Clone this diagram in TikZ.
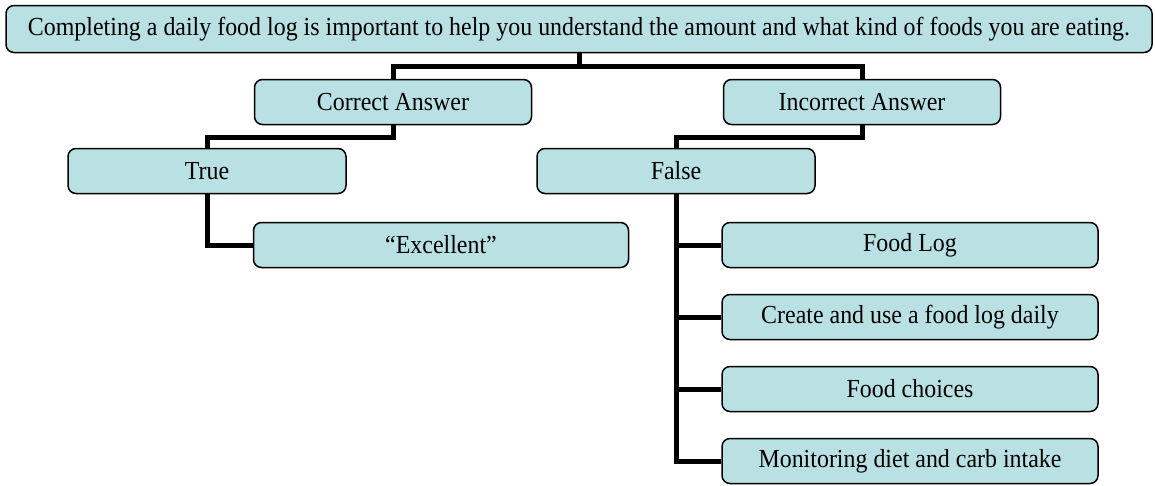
\documentclass[tikz,border=0pt]{standalone}
\usepackage{fontspec}
\setmainfont[FakeStretch=0.92]{Liberation Serif}
\definecolor{boxfill}{RGB}{185,224,227}
\begin{document}
\begin{tikzpicture}[x=1pt, y=-1pt,
  box/.style={draw, line width=1.5pt, rounded corners=8pt, fill=boxfill,
    minimum height=45pt, inner sep=0pt, font=\fontsize{26}{30}\selectfont},
  conn/.style={line width=5pt}]
\useasboundingbox (0,0) rectangle (1155,485);

% Question and the two answers
\node[box, minimum width=1146pt, minimum height=47pt] (question) at (579, 29) {Completing a daily food log is important to help you understand the amount and what kind of foods you are eating.};
\node[box, minimum width=277pt] (correct) at (393, 102) {Correct Answer};
\node[box, minimum width=277pt] (incorrect) at (862, 102) {Incorrect Answer};

% True / False
\node[box, minimum width=278pt] (true) at (207, 171) {True};
\node[box, minimum width=278pt] (false) at (676, 171) {False};

% Feedback
\node[box, minimum width=375pt] (excellent) at (441, 245) {``Excellent''};
\node[box, minimum width=376pt] (foodlog) at (910, 245) {Food Log};
\node[box, minimum width=376pt] (create) at (910, 317) {Create and use a food log daily};
\node[box, minimum width=376pt] (choices) at (910, 389) {Food choices};
\node[box, minimum width=376pt] (monitor) at (910, 461) {Monitoring diet and carb intake};

% Connectors
\draw[conn] (question.south) -- ++(0,13) -| (correct.north);
\draw[conn] (question.south) -- ++(0,13) -| (incorrect.north);
\draw[conn] (correct.south) -- ++(0,12) -| (true.north);
\draw[conn] (incorrect.south) -- ++(0,12) -| (false.north);
\draw[conn] (true.south) |- (excellent.west);
\foreach \n in {foodlog, create, choices, monitor}
  \draw[conn] (false.south) |- (\n.west);
\end{tikzpicture}
\end{document}
